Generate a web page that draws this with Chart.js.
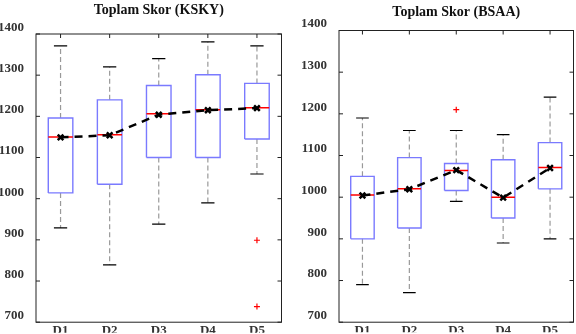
<!DOCTYPE html>
<html>
<head>
<meta charset="utf-8">
<script src="https://cdn.jsdelivr.net/npm/chart.js@4.4.1/dist/chart.umd.min.js"></script>
<style>
  html, body { margin: 0; padding: 0; background: #fff; overflow: hidden; }
  .panel { position: absolute; top: 0; height: 334px; }
  #leftPanel { left: 0; width: 288px; }
  #rightPanel { left: 288px; width: 292px; }
</style>
</head>
<body>
<div class="panel" id="leftPanel"><canvas id="chartKsky"></canvas></div>
<div class="panel" id="rightPanel"><canvas id="chartBsaa"></canvas></div>
<script>
// kategoriler
const categories = ['D1', 'D2', 'D3', 'D4', 'D5'];

// Toplam Skor (KSKY) - kutu grafiği değerleri
const kskyMin = [929, 839, 938, 990, 1060];
const kskyQ1 = [1014, 1035, 1100, 1100, 1145];
const kskyMedian = [1150, 1155, 1206, 1216, 1221];
const kskyQ3 = [1196, 1240, 1275, 1301, 1280];
const kskyMax = [1371, 1320, 1340, 1381, 1371];
const kskyMean = [1149, 1154, 1204, 1215, 1220];
const kskyOutliers = [[], [], [], [], [899, 738]];

// Toplam Skor (BSAA)
const bsaaMin = [790, 771, 990, 890, 900];
const bsaaQ1 = [900, 926, 1016, 950, 1020];
const bsaaMedian = [1005, 1020, 1064, 1000, 1071];
const bsaaQ3 = [1050, 1095, 1081, 1090, 1131];
const bsaaMax = [1190, 1160, 1160, 1150, 1240];
const bsaaMean = [1004, 1019, 1065, 999, 1070];
const bsaaOutliers = [[], [], [1210], [], []];

const BOX_HALF = 0.25;
const CAP_HALF = 0.135;
const labelFont = { family: 'Liberation Serif', size: 13, weight: 'bold' };

// çizgi parçaları (null ile ayrılmış)
function whiskerPoints(lo, q1, q3, hi) {
    const pts = [];
    categories.forEach((c, i) => {
        const x = i + 1;
        pts.push({ x, y: q3[i] }, { x, y: hi[i] }, { x, y: null });
        pts.push({ x, y: q1[i] }, { x, y: lo[i] }, { x, y: null });
    });
    return pts;
}

function capPoints(lo, hi) {
    const pts = [];
    categories.forEach((c, i) => {
        const x = i + 1;
        [lo[i], hi[i]].forEach(v => {
            pts.push({ x: x - CAP_HALF, y: v }, { x: x + CAP_HALF, y: v }, { x, y: null });
        });
    });
    return pts;
}

function boxPoints(q1, q3) {
    const pts = [];
    categories.forEach((c, i) => {
        const x = i + 1;
        pts.push(
            { x: x - BOX_HALF, y: q1[i] }, { x: x + BOX_HALF, y: q1[i] },
            { x: x + BOX_HALF, y: q3[i] }, { x: x - BOX_HALF, y: q3[i] },
            { x: x - BOX_HALF, y: q1[i] }, { x, y: null }
        );
    });
    return pts;
}

function medianPoints(med) {
    const pts = [];
    categories.forEach((c, i) => {
        const x = i + 1;
        pts.push({ x: x - BOX_HALF, y: med[i] }, { x: x + BOX_HALF, y: med[i] }, { x, y: null });
    });
    return pts;
}

function outlierPoints(outs) {
    const pts = [];
    outs.forEach((list, i) => list.forEach(v => pts.push({ x: i + 1, y: v })));
    return pts;
}

// çerçeve ve içe dönük tik çizgileri
const framePlugin = {
    id: 'frame',
    afterDatasetsDraw(chart) {
        const { ctx, chartArea: a, scales } = chart;
        ctx.save();
        ctx.strokeStyle = '#222';
        ctx.lineWidth = 1;
        ctx.setLineDash([]);
        ctx.strokeRect(a.left, a.top, a.right - a.left, a.bottom - a.top);
        ctx.beginPath();
        scales.y.ticks.forEach(t => {
            const py = scales.y.getPixelForValue(t.value);
            ctx.moveTo(a.left, py); ctx.lineTo(a.left + 4, py);
            ctx.moveTo(a.right - 4, py); ctx.lineTo(a.right, py);
        });
        scales.x.ticks.forEach(t => {
            const px = scales.x.getPixelForValue(t.value);
            ctx.moveTo(px, a.top); ctx.lineTo(px, a.top + 4);
        });
        ctx.stroke();
        ctx.restore();
    }
};

function makeChart(canvasId, title, s, layout) {
    const segBase = { type: 'scatter', showLine: true, pointRadius: 0, fill: false, spanGaps: false };
    return new Chart(document.getElementById(canvasId), {
        type: 'scatter',
        data: {
            datasets: [
                Object.assign({}, segBase, { data: whiskerPoints(s.min, s.q1, s.q3, s.max), borderColor: '#999', borderWidth: 1.2, borderDash: [5, 3], order: 5 }),
                Object.assign({}, segBase, { data: capPoints(s.min, s.max), borderColor: '#000', borderWidth: 1.2, order: 4 }),
                Object.assign({}, segBase, { data: boxPoints(s.q1, s.q3), borderColor: '#7a7aff', borderWidth: 1.4, order: 3 }),
                Object.assign({}, segBase, { data: medianPoints(s.median), borderColor: '#ff0000', borderWidth: 1.5, order: 2 }),
                {
                    type: 'scatter', data: outlierPoints(s.outliers), order: 1,
                    pointStyle: 'cross', pointRadius: 3, pointBorderColor: '#ff0000', pointBorderWidth: 1.2, showLine: false
                },
                {
                    type: 'scatter', showLine: true, order: 0,
                    data: s.mean.map((v, i) => ({ x: i + 1, y: v })),
                    borderColor: '#000', borderWidth: 2.5, borderDash: [8, 6],
                    pointStyle: 'crossRot', pointRadius: 4, pointBorderColor: '#000', pointBorderWidth: 2.5,
                    pointBackgroundColor: '#000'
                }
            ]
        },
        options: {
            responsive: true,
            maintainAspectRatio: false,
            animation: false,
            layout: { padding: { right: layout.right, left: 0, top: 0, bottom: 0 } },
            plugins: {
                legend: { display: false },
                tooltip: { enabled: false },
                title: {
                    display: true, text: title, fullSize: false, color: '#111',
                    font: { family: 'Liberation Serif', size: 14, weight: 'bold' },
                    padding: { top: layout.titleTop, bottom: layout.titleBottom }
                }
            },
            scales: {
                x: {
                    type: 'linear', min: 0.5, max: 5.5,
                    afterBuildTicks: sc => { sc.ticks = categories.map((c, i) => ({ value: i + 1 })); },
                    afterFit: sc => { sc.height = layout.xHeight; },
                    ticks: { callback: v => categories[v - 1], font: labelFont, color: '#333', padding: -7, maxRotation: 0, autoSkip: false },
                    grid: { display: false },
                    border: { display: false }
                },
                y: {
                    min: 700, max: 1400,
                    afterFit: sc => { sc.width = layout.yWidth; },
                    ticks: { stepSize: 100, callback: v => String(v), font: labelFont, color: '#333', padding: 4, labelOffset: -6.5 },
                    grid: { display: false },
                    border: { display: false }
                }
            }
        },
        plugins: [framePlugin]
    });
}

makeChart('chartKsky', 'Toplam Skor (KSKY)', {
    min: kskyMin, q1: kskyQ1, median: kskyMedian, q3: kskyQ3, max: kskyMax, mean: kskyMean, outliers: kskyOutliers
}, { right: 5, yWidth: 36, xHeight: 10.5, titleTop: 2, titleBottom: 15.2 });

makeChart('chartBsaa', 'Toplam Skor (BSAA)', {
    min: bsaaMin, q1: bsaaQ1, median: bsaaMedian, q3: bsaaQ3, max: bsaaMax, mean: bsaaMean, outliers: bsaaOutliers
}, { right: 2.5, yWidth: 51, xHeight: 10, titleTop: 4.3, titleBottom: 9.4 });
</script>
</body>
</html>
